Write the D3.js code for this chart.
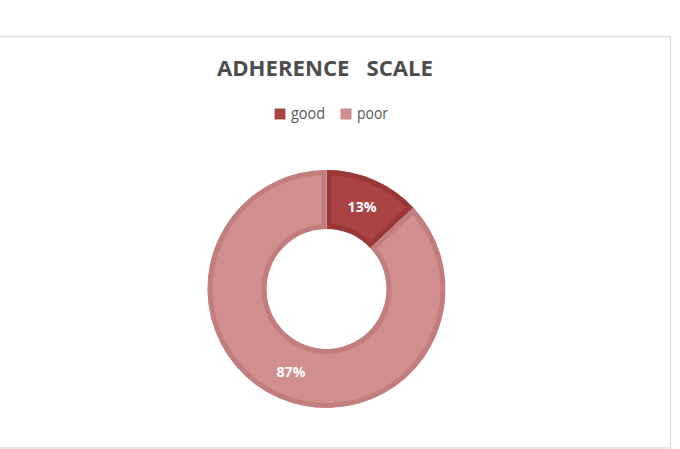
<!DOCTYPE html>
<html><head><meta charset="utf-8">
<script src="https://cdn.jsdelivr.net/npm/d3@7/dist/d3.min.js"></script>
<style>html,body{margin:0;padding:0;background:#fff}</style>
</head><body>
<script>
const categories = ["good", "poor"];
const values = [13, 87];
const fills = ["#aa4444", "#d18e8f"];
const edges = ["#9a3838", "#c27d7f"];
const title = "ADHERENCE\u00a0\u00a0 SCALE";

const W = 680, H = 449;
const svg = d3.select("body").append("svg").attr("width", W).attr("height", H);

svg.append("rect").attr("x", -5).attr("y", 36.5).attr("width", 675.5).attr("height", 411.5)
  .attr("fill", "#fff").attr("stroke", "#d9d9d9").attr("stroke-width", 1.2);

svg.append("text").attr("x", 325).attr("y", 75.5).attr("text-anchor", "middle")
  .attr("font-family", "'Open Sans', sans-serif").attr("font-weight", 700)
  .attr("font-size", 22).attr("fill", "#4d4d4d").attr("textLength", 216)
  .attr("lengthAdjust", "spacingAndGlyphs").text(title);

// legend
const legX = [275, 341];
const legW = [34, 31];
const leg = svg.append("g");
categories.forEach((c, i) => {
  leg.append("rect").attr("x", legX[i]).attr("y", 109).attr("width", 10).attr("height", 10)
    .attr("fill", fills[i]).attr("stroke", edges[i]).attr("stroke-width", 0.8);
  leg.append("text").attr("x", legX[i] + 16).attr("y", 118.5)
    .attr("font-family", "'Open Sans', sans-serif").attr("font-size", 15.5)
    .attr("textLength", legW[i]).attr("lengthAdjust", "spacingAndGlyphs")
    .attr("fill", "#595959").text(c);
});

const cx = 326.5, cy = 289, rOut = 119, rIn = 60;
const pie = d3.pie().sort(null).value(d => d)(values);
const arc = d3.arc().innerRadius(rIn).outerRadius(rOut);
const labelArc = d3.arc().innerRadius((rIn + rOut) / 2).outerRadius((rIn + rOut) / 2);

const g = svg.append("g").attr("transform", `translate(${cx},${cy})`);
const defs = svg.append("defs");
pie.forEach((p, i) => {
  const id = "clip" + i;
  defs.append("clipPath").attr("id", id).append("path").attr("d", arc(p));
  g.append("path").attr("d", arc(p)).attr("fill", fills[i])
    .attr("stroke", edges[i]).attr("stroke-width", 10).attr("clip-path", `url(#${id})`);
});
pie.forEach((p, i) => {
  const [x, y] = labelArc.centroid(p);
  g.append("text").attr("x", x).attr("y", y + 5.5).attr("text-anchor", "middle")
    .attr("font-family", "'Open Sans', sans-serif").attr("font-weight", 700)
    .attr("font-size", 15).attr("textLength", 29).attr("lengthAdjust", "spacingAndGlyphs")
    .attr("fill", "#fff").text(values[i] + "%");
});
</script>
</body></html>
